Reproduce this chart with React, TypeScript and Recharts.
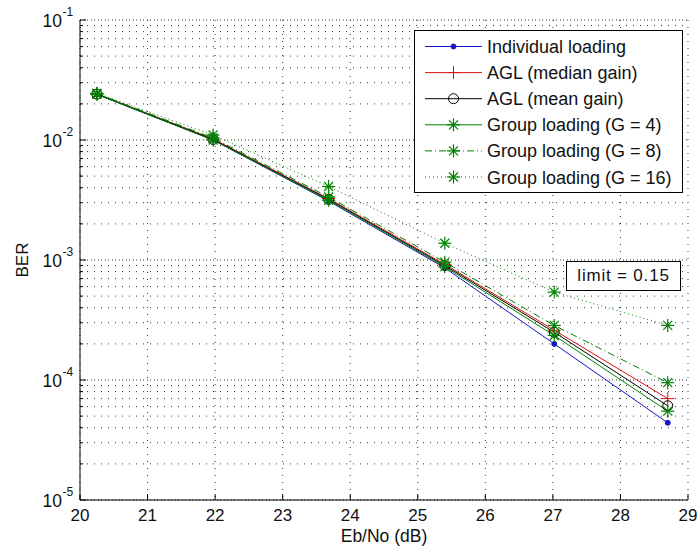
import { CartesianGrid, Label, Legend, Line, LineChart, ReferenceLine, XAxis, YAxis } from "recharts";

const ebno = [20.25, 21.97, 23.68, 25.4, 27.02, 28.7];
const individualLoading = [2.4e-2, 1.0e-2, 3.1e-3, 8.6e-4, 2.0e-4, 4.4e-5];
const aglMedian = [2.42e-2, 1.02e-2, 3.25e-3, 9.2e-4, 2.6e-4, 7.0e-5];
const aglMean = [2.41e-2, 1.01e-2, 3.2e-3, 9.0e-4, 2.5e-4, 6.1e-5];
const group4 = [2.4e-2, 1.0e-2, 3.15e-3, 8.8e-4, 2.35e-4, 5.5e-5];
const group8 = [2.44e-2, 1.04e-2, 3.35e-3, 9.6e-4, 2.85e-4, 9.5e-5];
const group16 = [2.45e-2, 1.1e-2, 4.1e-3, 1.38e-3, 5.4e-4, 2.85e-4];

const xTicks = [20, 21, 22, 23, 24, 25, 26, 27, 28, 29];
const decades = [1e-5, 1e-4, 1e-3, 1e-2, 1e-1];
const decadeExponents = ["-5", "-4", "-3", "-2", "-1"];
const minorSteps = [1, 2, 3, 4, 5, 6, 7, 8, 9];

const yTicks: number[] = [];
decades.slice(0, -1).forEach((d) => minorSteps.forEach((m) => yTicks.push(m * d)));
yTicks.push(1e-1);

const FONT = "'Liberation Sans', Arial, sans-serif";
const GREEN = "#008000";

const series = [
  { key: "individual", name: "Individual loading", values: individualLoading, color: "#1515c8", dash: undefined, marker: "dot" },
  { key: "median", name: "AGL (median gain)", values: aglMedian, color: "#e01010", dash: undefined, marker: "plus" },
  { key: "mean", name: "AGL (mean gain)", values: aglMean, color: "#000000", dash: undefined, marker: "circle" },
  { key: "g4", name: "Group loading (G = 4)", values: group4, color: GREEN, dash: undefined, marker: "star" },
  { key: "g8", name: "Group loading (G = 8)", values: group8, color: GREEN, dash: "7 3 1 3", marker: "star" },
  { key: "g16", name: "Group loading (G = 16)", values: group16, color: GREEN, dash: "1 3", marker: "star" },
];

const data = ebno.map((x, i) => {
  const row: Record<string, number> = { ebno: x };
  series.forEach((s) => { row[s.key] = s.values[i]; });
  return row;
});

function Marker({ kind, x, y, color }: { kind: string; x: number; y: number; color: string }) {
  if (kind === "dot") return <circle cx={x} cy={y} r={2.5} fill={color} stroke={color} />;
  if (kind === "circle") return <circle cx={x} cy={y} r={5} fill="none" stroke={color} strokeWidth={1} />;
  if (kind === "plus") {
    return (
      <g stroke={color} strokeWidth={1}>
        <line x1={x - 6.5} x2={x + 6.5} y1={y} y2={y} />
        <line x1={x} x2={x} y1={y - 6.5} y2={y + 6.5} />
      </g>
    );
  }
  const d = 4.5;
  return (
    <g stroke={color} strokeWidth={1.2}>
      <line x1={x - 6.5} x2={x + 6.5} y1={y} y2={y} />
      <line x1={x} x2={x} y1={y - 6.5} y2={y + 6.5} />
      <line x1={x - d} x2={x + d} y1={y - d} y2={y + d} />
      <line x1={x - d} x2={x + d} y1={y + d} y2={y - d} />
    </g>
  );
}

const makeDot = (kind: string, color: string, key: string) => (props: any) => {
  const { cx, cy, index } = props;
  if (cx == null || cy == null) return <g key={`${key}-${index}`} />;
  return (
    <g key={`${key}-${index}`}>
      <Marker kind={kind} x={cx} y={cy} color={color} />
    </g>
  );
};

const isDecade = (v: number) => Math.abs(Math.log10(v) - Math.round(Math.log10(v))) < 1e-9;

function BottomTick({ x, y, payload }: any) {
  return (
    <g>
      <line x1={x} x2={x} y1={y} y2={y - 6} stroke="#000" />
      <text x={x} y={y + 20.5} textAnchor="middle" fontSize={17} fill="#111" fontFamily={FONT}>
        {payload.value}
      </text>
    </g>
  );
}

function TopTick({ x, y }: any) {
  return <line x1={x} x2={x} y1={y} y2={y + 6} stroke="#000" />;
}

function LeftTick({ x, y, payload }: any) {
  const major = isDecade(payload.value);
  const idx = decades.findIndex((d) => Math.abs(d - payload.value) / d < 1e-6);
  return (
    <g>
      <line x1={x} x2={x + (major ? 6 : 3)} y1={y} y2={y} stroke="#000" />
      {major && idx >= 0 && (
        <g fill="#111" fontFamily={FONT}>
          <text x={x - 18} y={y + 7} textAnchor="end" fontSize={17.5}>10</text>
          <text x={x - 17.5} y={y - 4} textAnchor="start" fontSize={12}>{decadeExponents[idx]}</text>
        </g>
      )}
    </g>
  );
}

function RightTick({ x, y, payload }: any) {
  const major = isDecade(payload.value);
  return <line x1={x} x2={x - (major ? 6 : 3)} y1={y} y2={y} stroke="#000" />;
}

function LegendBox() {
  return (
    <svg width={269} height={163} style={{ display: "block", fontFamily: FONT }}>
      <rect x={0.5} y={0.5} width={268} height={162} fill="#fff" stroke="#000" />
      {series.map((s, i) => {
        const cy = 16.5 + i * 26.1;
        return (
          <g key={s.key}>
            <line x1={11} x2={68} y1={cy} y2={cy} stroke={s.color} strokeDasharray={s.dash} />
            <Marker kind={s.marker} x={39.5} y={cy} color={s.color} />
            <text x={73} y={cy + 6.5} fontSize={18} fill="#111">{s.name}</text>
          </g>
        );
      })}
    </svg>
  );
}

export default function App() {
  return (
    <div style={{ position: "absolute", left: 0, top: 0, width: 697, height: 553, background: "#fff" }}>
      <LineChart
        width={697}
        height={553}
        data={data}
        margin={{ top: 20, right: 9, left: 0, bottom: 0 }}
        style={{ fontFamily: FONT }}
      >
        <CartesianGrid stroke="#333" strokeDasharray="1 6" />
        {decades.map((d) => (
          <ReferenceLine key={d} y={d} stroke="#333" strokeDasharray="1 6" strokeDashoffset={3} />
        ))}
        <XAxis
          dataKey="ebno"
          type="number"
          domain={[20, 29]}
          ticks={xTicks}
          allowDataOverflow
          height={53}
          tickSize={0}
          tickMargin={0}
          tickLine={false}
          tick={BottomTick}
          axisLine={{ stroke: "#000" }}
          interval={0}
        >
          <Label
            content={({ viewBox }: any) => (
              <text x={viewBox.x + viewBox.width / 2} y={viewBox.y + 41.5} textAnchor="middle" fontSize={17.5} fill="#111" fontFamily={FONT}>
                Eb/No (dB)
              </text>
            )}
          />
        </XAxis>
        <XAxis
          xAxisId="top"
          orientation="top"
          type="number"
          domain={[20, 29]}
          ticks={xTicks}
          allowDataOverflow
          height={0}
          tickSize={0}
          tickMargin={0}
          tickLine={false}
          tick={TopTick}
          axisLine={{ stroke: "#000" }}
          interval={0}
        />
        <YAxis
          type="number"
          scale="log"
          domain={[1e-5, 1e-1]}
          ticks={yTicks}
          allowDataOverflow
          width={80}
          tickSize={0}
          tickMargin={0}
          tickLine={false}
          tick={LeftTick}
          axisLine={{ stroke: "#000" }}
          interval={0}
        >
          <Label
            content={({ viewBox }: any) => {
              const cx = viewBox.x + 22;
              const cy = viewBox.y + viewBox.height / 2;
              return (
                <text x={cx} y={cy} transform={`rotate(-90 ${cx} ${cy})`} textAnchor="middle" dominantBaseline="central" fontSize={17} fill="#111" fontFamily={FONT}>
                  BER
                </text>
              );
            }}
          />
        </YAxis>
        <YAxis
          yAxisId="right"
          orientation="right"
          type="number"
          scale="log"
          domain={[1e-5, 1e-1]}
          ticks={yTicks}
          allowDataOverflow
          width={0}
          tickSize={0}
          tickMargin={0}
          tickLine={false}
          tick={RightTick}
          axisLine={{ stroke: "#000" }}
          interval={0}
        />
        {series.map((s) => (
          <Line
            key={s.key}
            type="linear"
            dataKey={s.key}
            name={s.name}
            stroke={s.color}
            strokeWidth={1}
            strokeDasharray={s.dash}
            dot={makeDot(s.marker, s.color, s.key)}
            activeDot={false}
            isAnimationActive={false}
          />
        ))}
        <Legend
          layout="vertical"
          align="center"
          verticalAlign="middle"
          wrapperStyle={{ position: "absolute", left: 414, top: 30, width: 269, height: 163 }}
          content={() => <LegendBox />}
        />
      </LineChart>
      <div
        style={{
          position: "absolute",
          left: 566,
          top: 261,
          width: 113,
          height: 28,
          border: "1px solid #000",
          background: "#fff",
          fontFamily: FONT,
          fontSize: 17,
          letterSpacing: 0.8,
          lineHeight: "28px",
          textAlign: "center",
          color: "#111",
        }}
      >
        limit = 0.15
      </div>
    </div>
  );
}
